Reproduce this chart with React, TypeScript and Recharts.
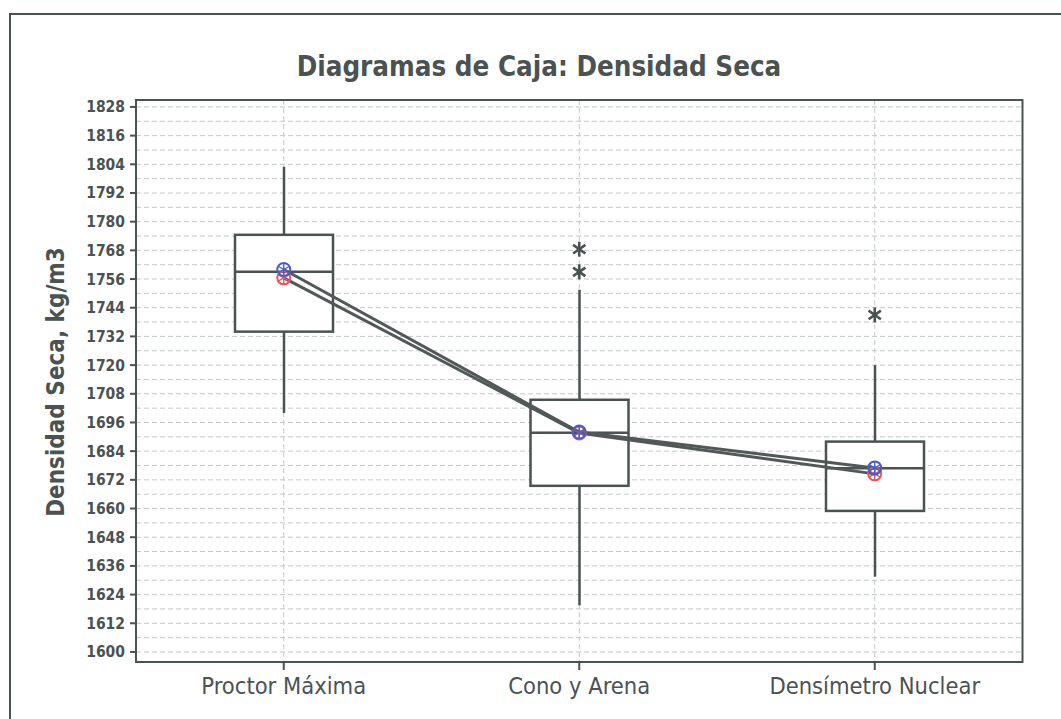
import React from 'react';
import { ComposedChart, Bar, Line, XAxis, YAxis, CartesianGrid, ReferenceArea } from 'recharts';

const categories = ['Proctor Máxima', 'Cono y Arena', 'Densímetro Nuclear'];
const whiskerLow = [1700, 1619.5, 1631.5];
const q1 = [1734, 1669.5, 1659];
const median = [1759, 1691.7, 1676.8];
const q3 = [1774.5, 1705.5, 1688];
const whiskerHigh = [1803, 1751.5, 1720];
const meanBlue = [1760, 1692, 1677];
const meanRed = [1756.5, 1691.6, 1674.5];
const outlierA: (number | null)[] = [null, 1768.5, 1741];
const outlierB: (number | null)[] = [null, 1759, null];
const yTicks = [1600, 1612, 1624, 1636, 1648, 1660, 1672, 1684, 1696, 1708, 1720, 1732, 1744, 1756, 1768, 1780, 1792, 1804, 1816, 1828];
const yDomain: [number, number] = [1595.8, 1830.9];

const FONT = '"DejaVu Sans Condensed", "DejaVu Sans", sans-serif';
const INK = '#4a5252';
const GRID = '#c4c8c8';

const data = categories.map((name, i) => ({
  name,
  range: [whiskerLow[i], whiskerHigh[i]],
  low: whiskerLow[i],
  high: whiskerHigh[i],
  q1: q1[i],
  median: median[i],
  q3: q3[i],
  blue: meanBlue[i],
  red: meanRed[i],
  outA: outlierA[i],
  outB: outlierB[i],
}));

// grid lines at every tick and half-way between ticks
const gridValues: number[] = [];
yTicks.forEach((t, i) => {
  gridValues.push(t);
  if (i < yTicks.length - 1) gridValues.push((t + yTicks[i + 1]) / 2);
});

const gridGenerator = (args: any) => {
  const yAxis = args?.yAxis;
  if (yAxis && typeof yAxis.scale === 'function') {
    return gridValues.map((v) => yAxis.scale(v));
  }
  const off = args?.offset;
  return gridValues.map((v) => off.top + (off.height * (yDomain[1] - v)) / (yDomain[1] - yDomain[0]));
};

const BoxShape = (props: any) => {
  const { x, y, width, height, payload } = props;
  if (x == null || y == null) return null;
  const lo = payload.low;
  const hi = payload.high;
  const px = (v: number) => y + (height * (hi - v)) / (hi - lo);
  const cx = x + width / 2;
  const yq1 = px(payload.q1);
  const yq3 = px(payload.q3);
  const ym = px(payload.median);
  return (
    <g>
      <line x1={cx} x2={cx} y1={px(hi)} y2={yq3} stroke={INK} strokeWidth={2.5} />
      <line x1={cx} x2={cx} y1={yq1} y2={px(lo)} stroke={INK} strokeWidth={2.5} />
      <rect x={x} y={yq3} width={width} height={yq1 - yq3} fill="#fff" stroke={INK} strokeWidth={2.5} />
      <line x1={x} x2={x + width} y1={ym} y2={ym} stroke={INK} strokeWidth={2.5} />
    </g>
  );
};

const makeMarker = (color: string) => (props: any) => {
  const { cx, cy, index } = props;
  if (cx == null || cy == null) return <g key={`m-${color}-${index}`} />;
  const r = 6.5;
  const spokes = [90, 30, 150].map((a) => {
    const rad = (a * Math.PI) / 180;
    return (
      <line
        key={a}
        x1={cx - r * Math.cos(rad)}
        y1={cy - r * Math.sin(rad)}
        x2={cx + r * Math.cos(rad)}
        y2={cy + r * Math.sin(rad)}
        stroke={color}
        strokeWidth={1.4}
      />
    );
  });
  return (
    <g key={`m-${color}-${index}`}>
      <circle cx={cx} cy={cy} r={r} fill="none" stroke={color} strokeWidth={2} />
      {spokes}
    </g>
  );
};

const Asterisk = (props: any) => {
  const { cx, cy, index, value } = props;
  if (cx == null || cy == null || value == null) return <g key={`a-${index}`} />;
  const r = 7.5;
  const arms = [90, 35, 145].map((a) => {
    const rad = (a * Math.PI) / 180;
    return (
      <line
        key={a}
        x1={cx - r * Math.cos(rad)}
        y1={cy - r * Math.sin(rad)}
        x2={cx + r * Math.cos(rad)}
        y2={cy + r * Math.sin(rad)}
        stroke={INK}
        strokeWidth={2.6}
      />
    );
  });
  return <g key={`a-${index}`}>{arms}</g>;
};

export default function App() {
  return (
    <div style={{ position: 'absolute', left: 0, top: 0, width: 1061, height: 719, background: '#fff', overflow: 'hidden' }}>
      <div
        style={{
          position: 'absolute',
          left: 9,
          top: 13,
          width: 1100,
          height: 800,
          borderTop: `2px solid ${INK}`,
          borderLeft: `2px solid ${INK}`,
        }}
      />
      <div
        style={{
          position: 'absolute',
          left: 0,
          top: 50,
          width: 1078,
          textAlign: 'center',
          fontFamily: FONT,
          fontWeight: 'bold',
          fontSize: 27.5,
          color: INK,
        }}
      >
        Diagramas de Caja: Densidad Seca
      </div>
      <div
        style={{
          position: 'absolute',
          left: 56,
          top: 382,
          transform: 'translate(-50%, -50%) rotate(-90deg)',
          whiteSpace: 'nowrap',
          fontFamily: FONT,
          fontWeight: 'bold',
          fontSize: 24,
          color: INK,
        }}
      >
        Densidad Seca, kg/m3
      </div>
      <div style={{ position: 'absolute', left: 0, top: 0 }}>
        <ComposedChart width={1061} height={719} data={data} margin={{ top: 100, right: 38.5, bottom: 0, left: 0 }}>
          <CartesianGrid
            horizontalCoordinatesGenerator={gridGenerator}
            stroke={GRID}
            strokeDasharray="5 3"
            strokeWidth={1}
          />
          <XAxis
            dataKey="name"
            type="category"
            height={57}
            tickSize={8}
            tickMargin={7}
            axisLine={{ stroke: INK, strokeWidth: 2 }}
            tickLine={{ stroke: INK, strokeWidth: 2 }}
            tick={{ fill: INK, fontSize: 23.5, fontFamily: FONT }}
            interval={0}
          />
          <YAxis
            type="number"
            width={136}
            domain={yDomain}
            ticks={yTicks}
            allowDataOverflow
            tickSize={6}
            tickMargin={5}
            axisLine={{ stroke: INK, strokeWidth: 2 }}
            tickLine={{ stroke: INK, strokeWidth: 2 }}
            tick={{ fill: INK, fontSize: 15.5, fontFamily: FONT, fontWeight: 'bold' }}
          />
          <Bar dataKey="range" barSize={98} shape={<BoxShape />} isAnimationActive={false} />
          <Line
            type="linear"
            dataKey="red"
            stroke="#505858"
            strokeWidth={3}
            dot={makeMarker('#e05a5a')}
            activeDot={false}
            isAnimationActive={false}
          />
          <Line
            type="linear"
            dataKey="blue"
            stroke="#505858"
            strokeWidth={3}
            dot={makeMarker('#4a5cc8')}
            activeDot={false}
            isAnimationActive={false}
          />
          <Line dataKey="outA" stroke="none" dot={Asterisk} activeDot={false} isAnimationActive={false} connectNulls={false} />
          <Line dataKey="outB" stroke="none" dot={Asterisk} activeDot={false} isAnimationActive={false} connectNulls={false} />
          <ReferenceArea y1={yDomain[0]} y2={yDomain[1]} fill="none" stroke={INK} strokeWidth={2} ifOverflow="visible" />
        </ComposedChart>
      </div>
    </div>
  );
}
